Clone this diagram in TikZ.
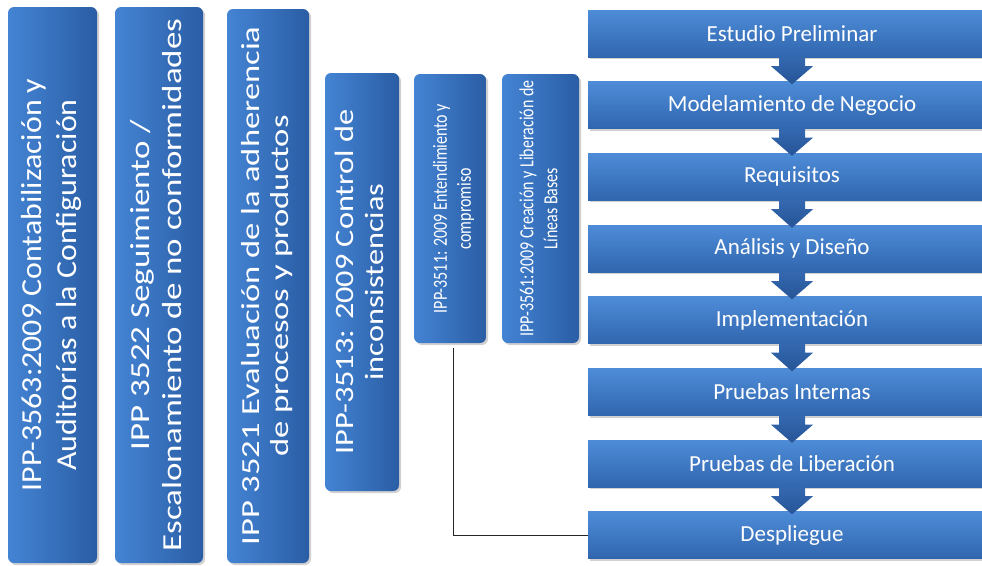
\documentclass[tikz,border=0pt]{standalone}
\usepackage{fontspec}
\usepackage{graphicx}
\setmainfont{Carlito}
\newfontfamily\barfontA[FakeStretch=1.10]{Carlito}
\newfontfamily\barfontB[FakeStretch=1.27]{Carlito}
\newfontfamily\barfontC[FakeStretch=1.33]{Carlito}
\newfontfamily\barfontD[FakeStretch=1.22]{Carlito}
\newfontfamily\barfontE[FakeStretch=0.80]{Carlito}
\usetikzlibrary{shadows,calc}

\definecolor{boxtop}{RGB}{78,140,216}
\definecolor{boxbot}{RGB}{48,102,174}
\definecolor{barleft}{RGB}{68,132,212}
\definecolor{barright}{RGB}{42,93,164}
\definecolor{arrtop}{RGB}{52,104,176}
\definecolor{arrbot}{RGB}{38,84,150}

% two lines of text set bottom-to-top
\newcommand{\vtext}[1]{\rotatebox{90}{\begin{tabular}{@{}c@{}}#1\end{tabular}}}

\begin{document}
\begin{tikzpicture}[x=1pt,y=-1pt,
  softshadow/.style={drop shadow={shadow xshift=2pt,shadow yshift=-2pt,opacity=0.3,fill=black!60}},
  bar/.style={rectangle,rounded corners=6pt,left color=barleft,right color=barright,
    draw=none,inner sep=0pt,text=white,softshadow},
  stage/.style={rectangle,top color=boxtop,bottom color=boxbot,draw=none,
    minimum width=408pt,minimum height=47pt,inner sep=0pt,text=white,
    font=\fontsize{23}{27}\selectfont,softshadow},
  flow/.style={top color=arrtop,bottom color=arrbot,draw=none},
  link/.style={draw=black!85,line width=0.8pt}]

\useasboundingbox (0,0) rectangle (982,565);
\clip (0,0) rectangle (982,565);

% vertical process-area bars
\node[bar,minimum width=89pt,minimum height=556pt] (b1) at (52.5,285)
  {\barfontA\fontsize{29}{35}\selectfont
   \vtext{IPP-3563:2009 Contabilización y\\Auditorías a la Configuración}};
\node[bar,minimum width=88pt,minimum height=556pt] (b2) at (159,285)
  {\barfontB\fontsize{27.5}{32}\selectfont
   \vtext{IPP 3522 Seguimiento /\\Escalonamiento de no conformidades}};
\node[bar,minimum width=82pt,minimum height=554pt] (b3) at (268,286)
  {\barfontC\fontsize{26}{29}\selectfont
   \vtext{IPP 3521 Evaluación de la adherencia\\de procesos y productos}};
\node[bar,minimum width=74pt,minimum height=418pt] (b4) at (362,282)
  {\barfontD\fontsize{26.5}{30}\selectfont
   \vtext{IPP-3513: 2009 Control de\\inconsistencias}};
\node[bar,minimum width=72pt,minimum height=269pt] (b5) at (450,208.5)
  {\hspace*{8pt}\barfontE\fontsize{20}{24}\selectfont
   \vtext{IPP-3511: 2009 Entendimiento y\\compromiso}};
\node[bar,minimum width=77pt,minimum height=269pt] (b6) at (540.5,208.5)
  {\barfontE\fontsize{20}{24}\selectfont
   \vtext{IPP-3561:2009 Creación y Liberación de\\Líneas Bases}};

% development stages
\node[stage] (s1) at (792,33.5)  {Estudio Preliminar};
\node[stage] (s2) at (792,105)   {Modelamiento de Negocio};
\node[stage] (s3) at (792,176.5) {Requisitos};
\node[stage] (s4) at (792,248.5) {Análisis y Diseño};
\node[stage] (s5) at (792,320)   {Implementación};
\node[stage] (s6) at (792,392)   {Pruebas Internas};
\node[stage] (s7) at (792,463.5) {Pruebas de Liberación};
\node[stage] (s8) at (792,535)   {Despliegue};

% block arrows between consecutive stages
\foreach \a/\b in {s1/s2,s2/s3,s3/s4,s4/s5,s5/s6,s6/s7,s7/s8}{
  \path[flow] ($(\a.south)+(-13,0)$) -- ($(\a.south)+(13,0)$)
    -- ($(\a.south)+(13,9)$) -- ($(\a.south)+(21,9)$)
    -- ($(\b.north)+(0,3)$)
    -- ($(\a.south)+(-21,9)$) -- ($(\a.south)+(-13,9)$) -- cycle;
}

% link from the commitment bar to deployment
\draw[link] ([xshift=3pt,yshift=-5pt]b5.south) |- (s8.west);

\end{tikzpicture}
\end{document}
